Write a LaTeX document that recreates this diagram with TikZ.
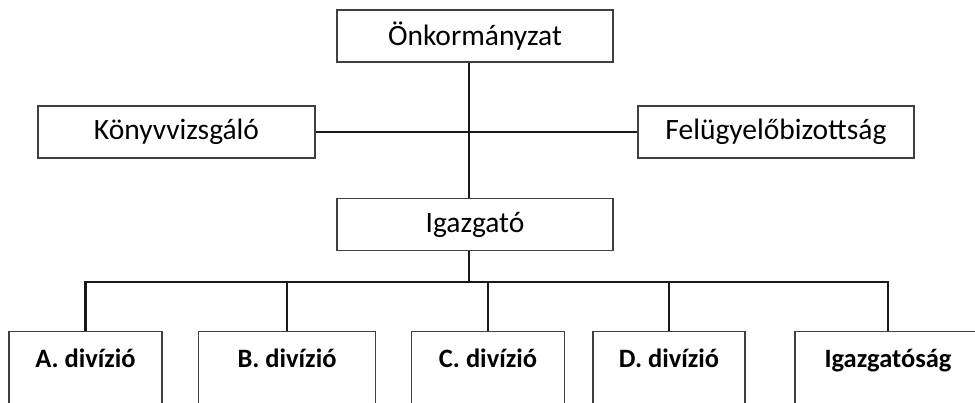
\documentclass[tikz,border=0pt]{standalone}
\usepackage{fontspec}
\setmainfont{Carlito}
\usetikzlibrary{positioning}
\tikzset{
  box/.style={draw=black!75,line width=1.4pt,minimum height=52pt,inner sep=0pt,font=\fontsize{29.5}{33}\selectfont},
  divbox/.style={draw=black!75,line width=1.4pt,anchor=north,inner xsep=0pt,inner ysep=8pt,text height=28pt,text depth=80pt,font=\fontsize{26.5}{30}\selectfont\bfseries},
  conn/.style={line width=2.6pt,black!90,line join=miter}
}
\begin{document}
\begin{tikzpicture}[x=1pt,y=-1pt]
  \clip (0,0) rectangle (975,402);
  \node[box,minimum width=276pt](onk) at (475,36) {Önkormányzat};
  \node[box,minimum width=277pt](konyv) at (176.5,132) {Könyvvizsgáló};
  \node[box,minimum width=276pt](felugy) at (776,132) {Felügyelőbizottság};
  \node[box,minimum width=276pt](igaz) at (475,224.5) {Igazgató};
  \node[divbox,minimum width=153pt](diva) at (85.5,331) {A. divízió};
  \node[divbox,minimum width=177pt](divb) at (287,331) {B. divízió};
  \node[divbox,minimum width=153pt](divc) at (488,331) {C. divízió};
  \node[divbox,minimum width=152pt](divd) at (669,331) {D. divízió};
  \node[divbox,minimum width=186pt](igsag) at (888,331) {Igazgatóság};
  \coordinate (spine) at (469,282);
  \draw[conn] (onk.south -| spine)--(igaz.north -| spine);
  \draw[conn] (konyv.east)--(felugy.west);
  \draw[conn] (igaz.south -| spine)--(spine);
  \draw[conn] (diva.north)--(spine -| diva.north)--(spine -| igsag.north)--(igsag.north);
  \draw[conn] (spine -| divb.north)--(divb.north);
  \draw[conn] (spine -| divc.north)--(divc.north);
  \draw[conn] (spine -| divd.north)--(divd.north);
\end{tikzpicture}
\end{document}
